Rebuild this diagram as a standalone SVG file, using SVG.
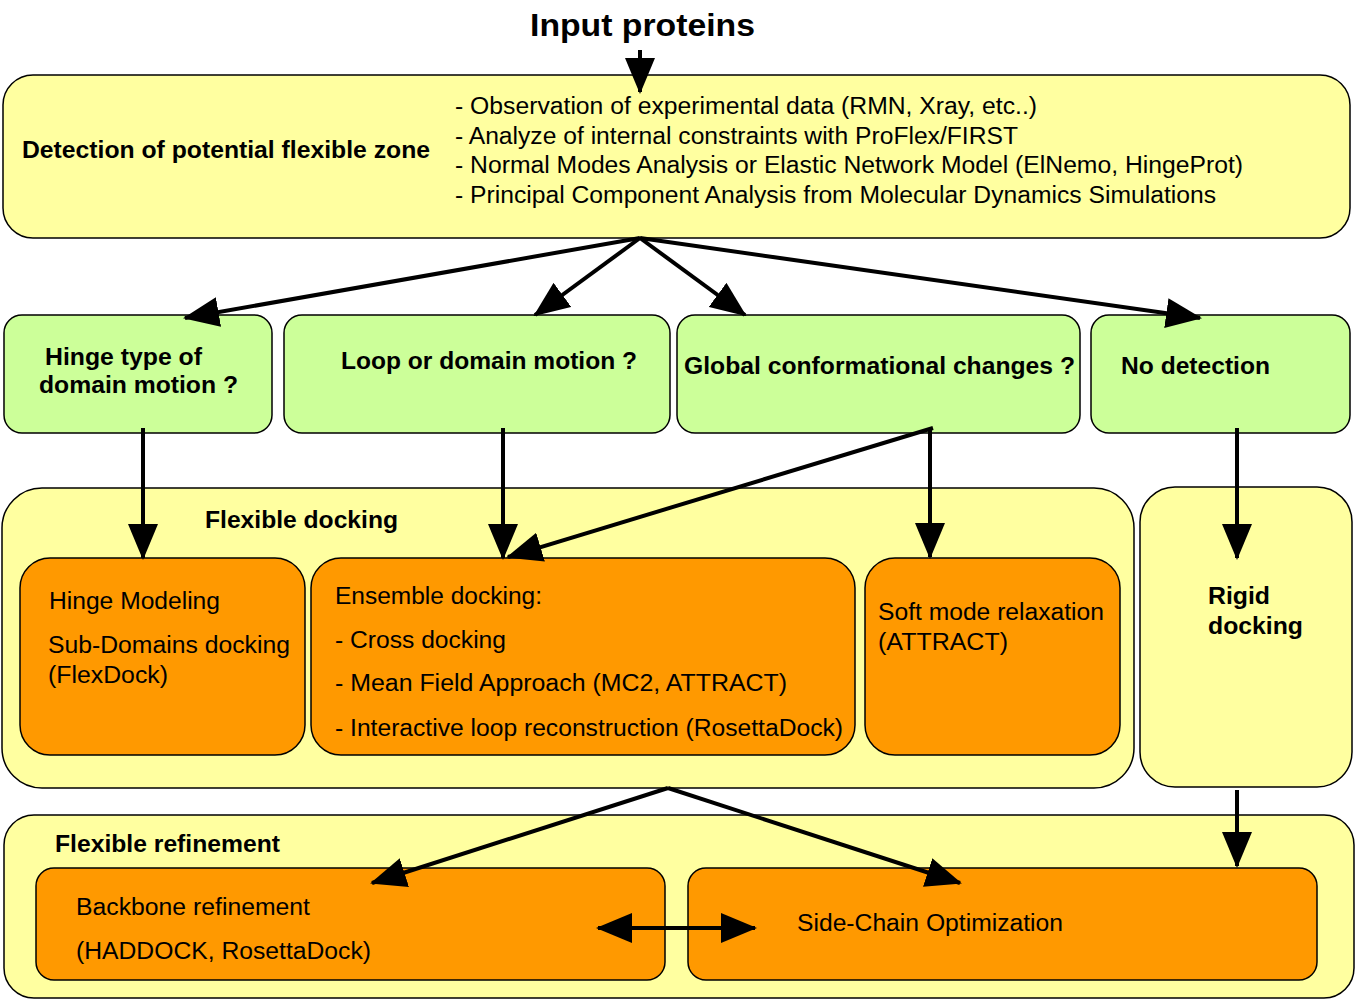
<svg xmlns="http://www.w3.org/2000/svg" width="1357" height="1000" viewBox="0 0 1357 1000">
<style>
text{font-family:"Liberation Sans",Arial,sans-serif;fill:#000;font-size:23px}
.b{font-weight:bold}
.y{fill:#ffffa0;stroke:#000;stroke-width:1.5}
.g{fill:#ccff99;stroke:#000;stroke-width:1.5}
.o{fill:#ff9900;stroke:#000;stroke-width:1.5}
.c line{stroke:#000;stroke-width:4;fill:none}
</style>
<defs>
<marker id="a" markerUnits="userSpaceOnUse" markerWidth="36" markerHeight="30" refX="34" refY="15" orient="auto-start-reverse"><path d="M0,0 L36,15 L0,30 Z" fill="#000"/></marker>
</defs>
<rect width="1357" height="1000" fill="#fff"/>
<text x="530" y="36" class="b" style="font-size:32px" textLength="225" lengthAdjust="spacingAndGlyphs">Input proteins</text>
<g id="detect"><rect class="y" x="3" y="75" width="1347" height="163" rx="30"/>
<text x="22" y="158" class="b" textLength="408" lengthAdjust="spacingAndGlyphs">Detection of potential flexible zone</text>
<text x="455" y="114" textLength="582" lengthAdjust="spacingAndGlyphs">- Observation of experimental data (RMN, Xray, etc..)</text>
<text x="455" y="144" textLength="563" lengthAdjust="spacingAndGlyphs">- Analyze of internal constraints with ProFlex/FIRST</text>
<text x="455" y="173" textLength="788" lengthAdjust="spacingAndGlyphs">- Normal Modes Analysis or Elastic Network Model (ElNemo, HingeProt)</text>
<text x="455" y="203" textLength="761" lengthAdjust="spacingAndGlyphs">- Principal Component Analysis from Molecular Dynamics Simulations</text></g>
<g id="hinge"><rect class="g" x="4" y="315" width="268" height="118" rx="18"/>
<text x="45" y="365" class="b" textLength="157" lengthAdjust="spacingAndGlyphs">Hinge type of</text>
<text x="39" y="393" class="b" textLength="199" lengthAdjust="spacingAndGlyphs">domain motion ?</text></g>
<g id="loop"><rect class="g" x="284" y="315" width="386" height="118" rx="18"/>
<text x="341" y="369" class="b" textLength="296" lengthAdjust="spacingAndGlyphs">Loop or domain motion ?</text></g>
<g id="global"><rect class="g" x="677" y="315" width="403" height="118" rx="18"/>
<text x="684" y="374" class="b" textLength="391" lengthAdjust="spacingAndGlyphs">Global conformational changes ?</text></g>
<g id="nodet"><rect class="g" x="1091" y="315" width="259" height="118" rx="18"/>
<text x="1121" y="374" class="b" textLength="149" lengthAdjust="spacingAndGlyphs">No detection</text></g>
<g id="flexdock"><rect class="y" x="2" y="488" width="1132" height="300" rx="40"/>
<text x="205" y="528" class="b" textLength="193" lengthAdjust="spacingAndGlyphs">Flexible docking</text></g>
<g id="rigid"><rect class="y" x="1140" y="487" width="212" height="300" rx="35"/>
<text x="1208" y="604" class="b" textLength="62" lengthAdjust="spacingAndGlyphs">Rigid</text>
<text x="1208" y="634" class="b" textLength="95" lengthAdjust="spacingAndGlyphs">docking</text></g>
<g id="hingemod"><rect class="o" x="20" y="558" width="285" height="197" rx="30"/>
<text x="49" y="609" textLength="171" lengthAdjust="spacingAndGlyphs">Hinge Modeling</text>
<text x="48" y="653" textLength="242" lengthAdjust="spacingAndGlyphs">Sub-Domains docking</text>
<text x="48" y="683" textLength="120" lengthAdjust="spacingAndGlyphs">(FlexDock)</text></g>
<g id="ensemble"><rect class="o" x="311" y="558" width="544" height="197" rx="30"/>
<text x="335" y="604" textLength="207" lengthAdjust="spacingAndGlyphs">Ensemble docking:</text>
<text x="335" y="648" textLength="171" lengthAdjust="spacingAndGlyphs">- Cross docking</text>
<text x="335" y="691" textLength="452" lengthAdjust="spacingAndGlyphs">- Mean Field Approach (MC2, ATTRACT)</text>
<text x="335" y="736" textLength="508" lengthAdjust="spacingAndGlyphs">- Interactive loop reconstruction (RosettaDock)</text></g>
<g id="soft"><rect class="o" x="865" y="558" width="255" height="197" rx="30"/>
<text x="878" y="620" textLength="226" lengthAdjust="spacingAndGlyphs">Soft mode relaxation</text>
<text x="878" y="650" textLength="130" lengthAdjust="spacingAndGlyphs">(ATTRACT)</text></g>
<g id="flexref"><rect class="y" x="4" y="815" width="1350" height="183" rx="30"/>
<text x="55" y="852" class="b" textLength="225" lengthAdjust="spacingAndGlyphs">Flexible refinement</text></g>
<g id="backbone"><rect class="o" x="36" y="868" width="629" height="112" rx="18"/>
<text x="76" y="915" textLength="234" lengthAdjust="spacingAndGlyphs">Backbone refinement</text>
<text x="76" y="959" textLength="295" lengthAdjust="spacingAndGlyphs">(HADDOCK, RosettaDock)</text></g>
<g id="sidechain"><rect class="o" x="688" y="868" width="629" height="112" rx="18"/>
<text x="797" y="931" textLength="266" lengthAdjust="spacingAndGlyphs">Side-Chain Optimization</text></g>
<g class="c" id="connectors">
<line x1="640" y1="50" x2="640" y2="92" marker-end="url(#a)"/>
<line x1="640" y1="238" x2="185" y2="318" marker-end="url(#a)"/>
<line x1="640" y1="238" x2="535" y2="315" marker-end="url(#a)"/>
<line x1="640" y1="238" x2="745" y2="315" marker-end="url(#a)"/>
<line x1="640" y1="238" x2="1200" y2="318" marker-end="url(#a)"/>
<line x1="143" y1="428" x2="143" y2="558" marker-end="url(#a)"/>
<line x1="503" y1="428" x2="503" y2="558" marker-end="url(#a)"/>
<line x1="933" y1="428" x2="508" y2="557" marker-end="url(#a)"/>
<line x1="930" y1="428" x2="930" y2="557" marker-end="url(#a)"/>
<line x1="1237" y1="428" x2="1237" y2="558" marker-end="url(#a)"/>
<line x1="1237" y1="790" x2="1237" y2="866" marker-end="url(#a)"/>
<line x1="668" y1="788" x2="372" y2="883" marker-end="url(#a)"/>
<line x1="668" y1="788" x2="960" y2="883" marker-end="url(#a)"/>
<line x1="598" y1="928" x2="755" y2="928" marker-start="url(#a)" marker-end="url(#a)"/>
</g>
</svg>
